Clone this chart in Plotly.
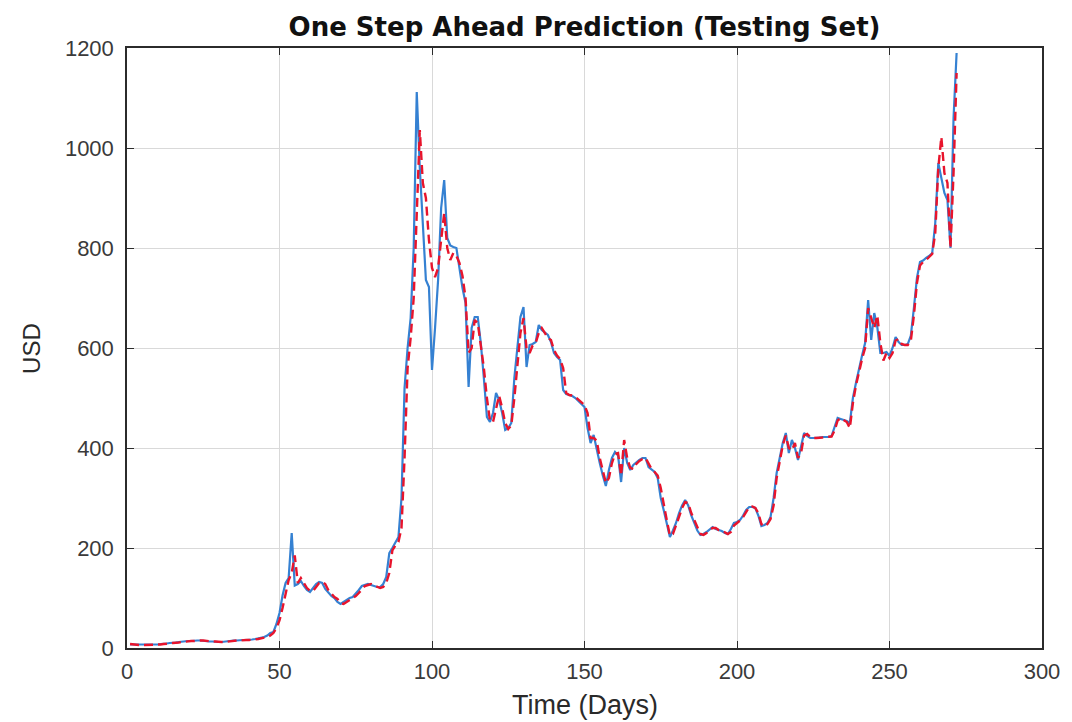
import plotly.graph_objects as go

days = list(range(1, 273))

actual = [
    7, 7, 6, 6, 6, 7, 7, 6, 6, 7,
    8, 8, 9, 10, 10, 11, 12, 13, 13, 14,
    14, 15, 15, 15, 14, 14, 13, 13, 12, 12,
    12, 13, 14, 14, 15, 15, 16, 16, 16, 16,
    17, 18, 19, 20, 22, 25, 30, 32, 48, 70,
    105, 130, 140, 230, 125, 128, 134, 124, 116, 112,
    120, 128, 132, 130, 118, 110, 104, 100, 92, 88,
    92, 96, 100, 102, 108, 116, 124, 126, 128, 126,
    124, 122, 122, 128, 142, 190, 200, 210, 222, 300,
    520, 600, 660, 800, 1112, 960, 860, 736, 722, 556,
    640, 736, 880, 936, 820, 805, 802, 800, 760, 720,
    690, 522, 640, 662, 662, 610, 540, 462, 452, 470,
    510, 496, 470, 436, 440, 450, 540, 600, 662, 682,
    562, 606, 608, 612, 646, 636, 630, 626, 612, 590,
    582, 576, 516, 508, 506, 504, 500, 494, 490, 482,
    440, 410, 426, 396, 370, 345, 324, 356, 380, 392,
    385, 332, 400, 370, 356, 366, 372, 376, 380, 380,
    362, 356, 352, 340, 300, 275, 245, 222, 235, 250,
    270, 285, 296, 285, 265, 250, 235, 226, 228, 232,
    238, 242, 238, 236, 234, 230, 228, 238, 250, 252,
    256, 265, 276, 282, 282, 280, 265, 244, 246, 250,
    262, 300, 350, 380, 410, 430, 390, 416, 400, 376,
    405, 430, 424, 420, 420, 420, 421, 422, 422, 422,
    424, 440, 460, 458, 456, 454, 450, 500, 530, 560,
    585, 610, 696, 616, 670, 642, 590, 590, 592, 584,
    600, 622, 612, 606, 606, 608, 625, 680, 740, 772,
    775, 780, 784, 790, 850, 970, 940, 910, 896, 800,
    1060, 1190,
]

predicted = [
    8, 7, 7, 6, 6, 6, 7, 7, 6, 6,
    7, 8, 8, 9, 10, 10, 11, 12, 13, 13,
    14, 14, 15, 15, 15, 14, 14, 13, 13, 12,
    12, 12, 13, 14, 14, 15, 15, 16, 16, 16,
    16, 17, 18, 19, 20, 22, 25, 30, 40, 55,
    80, 112, 136, 150, 185, 130, 140, 130, 120, 114,
    114, 122, 130, 132, 128, 116, 108, 102, 98, 90,
    88, 92, 96, 100, 104, 110, 118, 124, 126, 128,
    125, 122, 120, 122, 130, 150, 195, 205, 212, 240,
    380, 560, 620, 700, 880, 1036, 930, 900, 816, 760,
    742, 760, 816, 870, 800, 776, 790, 784, 770, 744,
    700, 590, 600, 656, 650, 604, 560, 500, 455, 452,
    480, 505, 480, 450, 438, 445, 500, 570, 630, 660,
    600, 590, 605, 610, 630, 640, 630, 620, 616, 596,
    585, 578, 560, 510, 506, 505, 502, 496, 490, 486,
    470, 420, 420, 415, 380, 355, 330, 340, 370, 388,
    390, 345, 416, 380, 360, 358, 368, 374, 378, 380,
    370, 358, 352, 345, 320, 285, 255, 225, 228, 245,
    265, 280, 292, 290, 270, 255, 240, 228, 226, 230,
    236, 240, 240, 236, 235, 232, 228, 232, 245, 250,
    255, 262, 272, 282, 283, 280, 270, 248, 243, 248,
    258, 285, 340, 370, 405, 425, 400, 395, 410, 380,
    390, 425, 428, 422, 420, 420, 420, 421, 422, 422,
    423, 435, 455, 460, 456, 452, 440, 490, 525, 555,
    578, 600, 680, 660, 640, 665, 610, 575, 590, 580,
    590, 615, 618, 608, 606, 606, 615, 665, 730, 765,
    772, 776, 782, 788, 830, 960, 1022, 950, 930, 800,
    950, 1150,
]

x_ticks = [0, 50, 100, 150, 200, 250, 300]
y_ticks = [0, 200, 400, 600, 800, 1000, 1200]

fig = go.Figure()
fig.add_trace(go.Scatter(x=days, y=actual, mode="lines",
                         line=dict(color="#3581d2", width=2.2),
                         name="Actual"))
fig.add_trace(go.Scatter(x=days, y=predicted, mode="lines",
                         line=dict(color="#e8142c", width=2.4, dash="9px,5px"),
                         name="Predicted"))

axis_common = dict(
    showline=True, linecolor="#2b2b2b", linewidth=1.5, mirror="ticks",
    ticks="inside", ticklen=7, tickcolor="#2b2b2b",
    showgrid=True, gridcolor="#d9d9d9", gridwidth=1,
    zeroline=False,
    tickfont=dict(family="Liberation Sans, Arial, sans-serif", size=22, color="#3a3a3a"),
)

fig.update_layout(
    width=1072, height=722,
    margin=dict(l=127, r=27, t=48, b=74),
    paper_bgcolor="white", plot_bgcolor="white",
    showlegend=False,
    title=dict(text="<b>One Step Ahead Prediction (Testing Set)</b>",
               x=0.5, xanchor="center", xref="paper",
               y=1 - 27 / 722, yanchor="middle", yref="container",
               font=dict(family="DejaVu Sans, sans-serif", size=26, color="#111111")),
    xaxis=dict(range=[0, 300], tickvals=x_ticks, ticktext=[str(v) for v in x_ticks],
               ticklabelstandoff=3, **axis_common),
    yaxis=dict(range=[0, 1200], tickvals=y_ticks, ticktext=[str(v) for v in y_ticks],
               ticklabelstandoff=7, **axis_common),
    annotations=[
        dict(text="Time (Days)", xref="paper", yref="paper", x=0.5, y=-0.095,
             xanchor="center", yanchor="middle", showarrow=False,
             font=dict(family="Liberation Sans, Arial, sans-serif", size=27, color="#2a2a2a")),
        dict(text="USD", xref="paper", yref="paper", x=-0.105, y=0.5,
             xanchor="center", yanchor="middle", showarrow=False, textangle=-90,
             font=dict(family="Liberation Sans, Arial, sans-serif", size=24, color="#2a2a2a")),
    ],
)

fig.write_html("out.html")
